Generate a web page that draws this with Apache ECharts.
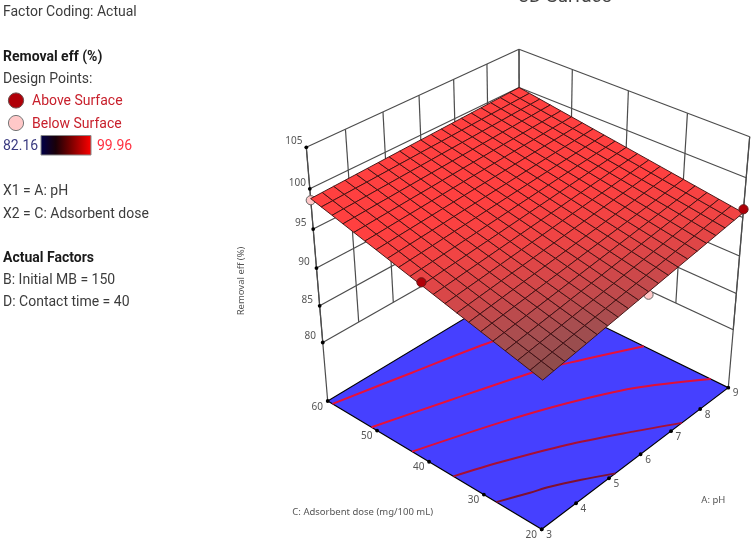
<!DOCTYPE html>
<html><head><meta charset="utf-8">
<style>html,body{margin:0;padding:0;background:#fff}#c{width:752px;height:541px}</style>
<script src="https://cdn.jsdelivr.net/npm/echarts@6/dist/echarts.min.js"></script>
</head><body><div id="c"></div>
<script>
const PH_TICKS=[3,4,5,6,7,8,9];
const DOSE_TICKS=[60,50,40,30,20];
const Z_TICKS=[80,85,90,95,100,105];
const Z_FLOOR=71.7;
// surface: rows run dose 60 -> 20 (steps of 2), columns run pH 3 -> 9 (steps of 0.3)
const PH_GRID=[3,3.3,3.6,3.9,4.2,4.5,4.8,5.1,5.4,5.7,6,6.3,6.6,6.9,7.2,7.5,7.8,8.1,8.4,8.7,9];
const DOSE_GRID=[60,58,56,54,52,50,48,46,44,42,40,38,36,34,32,30,28,26,24,22,20];
const SURFACE=[
[98.80,98.86,98.92,98.98,99.04,99.10,99.16,99.22,99.28,99.34,99.40,99.46,99.52,99.58,99.64,99.70,99.76,99.82,99.88,99.94,100.00],
[98.41,98.48,98.55,98.62,98.68,98.75,98.82,98.89,98.96,99.03,99.10,99.16,99.23,99.30,99.37,99.44,99.51,99.57,99.64,99.71,99.78],
[98.03,98.11,98.18,98.26,98.34,98.41,98.49,98.57,98.64,98.72,98.80,98.87,98.95,99.02,99.10,99.18,99.25,99.33,99.41,99.48,99.56],
[97.64,97.73,97.81,97.90,97.98,98.07,98.15,98.24,98.32,98.41,98.49,98.58,98.66,98.75,98.83,98.92,99.00,99.09,99.17,99.26,99.34],
[97.25,97.34,97.44,97.53,97.62,97.72,97.81,97.90,98.00,98.09,98.19,98.28,98.37,98.47,98.56,98.65,98.75,98.84,98.93,99.03,99.12],
[96.86,96.96,97.06,97.17,97.27,97.37,97.47,97.57,97.68,97.78,97.88,97.98,98.08,98.19,98.29,98.39,98.49,98.59,98.70,98.80,98.90],
[96.48,96.59,96.70,96.81,96.92,97.03,97.14,97.25,97.36,97.47,97.58,97.69,97.80,97.91,98.02,98.13,98.24,98.35,98.46,98.57,98.68],
[96.09,96.21,96.33,96.45,96.56,96.68,96.80,96.92,97.04,97.16,97.28,97.39,97.51,97.63,97.75,97.87,97.99,98.10,98.22,98.34,98.46],
[95.70,95.83,95.95,96.08,96.21,96.34,96.46,96.59,96.72,96.84,96.97,97.10,97.22,97.35,97.48,97.61,97.73,97.86,97.99,98.11,98.24],
[95.31,95.45,95.58,95.72,95.85,95.99,96.12,96.26,96.39,96.53,96.67,96.80,96.94,97.07,97.21,97.34,97.48,97.61,97.75,97.88,98.02],
[94.93,95.07,95.22,95.36,95.50,95.65,95.79,95.93,96.08,96.22,96.37,96.51,96.65,96.80,96.94,97.08,97.23,97.37,97.51,97.66,97.80],
[94.54,94.69,94.84,95.00,95.15,95.30,95.45,95.60,95.76,95.91,96.06,96.21,96.36,96.52,96.67,96.82,96.97,97.12,97.28,97.43,97.58],
[94.15,94.31,94.47,94.63,94.79,94.95,95.11,95.27,95.43,95.59,95.76,95.92,96.08,96.24,96.40,96.56,96.72,96.88,97.04,97.20,97.36],
[93.76,93.93,94.10,94.27,94.44,94.61,94.77,94.94,95.11,95.28,95.45,95.62,95.79,95.96,96.13,96.30,96.46,96.63,96.80,96.97,97.14],
[93.38,93.56,93.73,93.91,94.09,94.27,94.44,94.62,94.80,94.97,95.15,95.33,95.50,95.68,95.86,96.04,96.21,96.39,96.57,96.74,96.92],
[92.99,93.18,93.36,93.55,93.73,93.92,94.10,94.29,94.47,94.66,94.85,95.03,95.22,95.40,95.59,95.77,95.96,96.14,96.33,96.51,96.70],
[92.60,92.79,92.99,93.18,93.38,93.57,93.76,93.96,94.15,94.35,94.54,94.73,94.93,95.12,95.32,95.51,95.70,95.90,96.09,96.29,96.48],
[92.21,92.41,92.62,92.82,93.02,93.22,93.43,93.63,93.83,94.03,94.24,94.44,94.64,94.84,95.05,95.25,95.45,95.65,95.86,96.06,96.26],
[91.83,92.04,92.25,92.46,92.67,92.88,93.09,93.30,93.51,93.72,93.94,94.15,94.36,94.57,94.78,94.99,95.20,95.41,95.62,95.83,96.04],
[91.44,91.66,91.88,92.10,92.32,92.54,92.75,92.97,93.19,93.41,93.63,93.85,94.07,94.29,94.51,94.73,94.94,95.16,95.38,95.60,95.82],
[91.05,91.28,91.51,91.73,91.96,92.19,92.42,92.64,92.87,93.10,93.33,93.55,93.78,94.01,94.24,94.46,94.69,94.92,95.15,95.37,95.60]
];
// floor contours as [pH, dose]
const CONTOUR_1=[[3,59],[4.9,56],[6.88,52.8],[9,48]];
const CONTOUR_2=[[3,51.1],[4.73,47.4],[6.57,43.3],[7.3,41.2],[9,35.3]];
const CONTOUR_3=[[3,43.2],[4.87,38.7],[6.29,34.7],[7.63,30],[9,23.1]];
const CONTOUR_4=[[3,35.5],[3.93,32.9],[5.23,28.7],[6.47,23.8],[7.37,20]];
const CONTOUR_5=[[3,27.8],[3.64,25.8],[4.03,24.65],[4.6,22.5],[5.2,20]];
const CONTOURS=[CONTOUR_1,CONTOUR_2,CONTOUR_3,CONTOUR_4,CONTOUR_5];
const CONTOUR_COLORS=['#e8103a','#e8103a','#e00f38','#a80f35','#801030'];
// design points as [pH, dose, response]
const POINTS_ABOVE=[[3,40,95.3],[9,20,96.05]];
const POINTS_BELOW=[[3,60,98.6],[6,20,92.95]];

const COLOR_STOPS=[[91,[130,74,74]],[92.5,[165,78,80]],[94,[208,72,74]],[95.5,[240,68,68]],[97,[255,64,64]]];
function surfColor(z){
  if(z<=COLOR_STOPS[0][0])return 'rgb('+COLOR_STOPS[0][1]+')';
  for(let k=1;k<COLOR_STOPS.length;k++){
    if(z<=COLOR_STOPS[k][0]){
      const a=COLOR_STOPS[k-1],b=COLOR_STOPS[k],t=(z-a[0])/(b[0]-a[0]);
      return 'rgb('+a[1].map((c,n)=>Math.round(c+(b[1][n]-c)*t))+')';
    }
  }
  return 'rgb(255,64,64)';
}
// perspective camera mapping (pH, dose, response) onto the page plane
const CAM={ox:327.7,oy:401,ux:251.7,uy:-82.87,vx:159.83,vy:75.37,hx:-51.17,hy:-268.02,a:0.115,b:-0.10,c:-0.0972};
function proj(ph,dose,z){
  const u=(ph-3)/6,v=(60-dose)/40,h=(z-Z_FLOOR)/(105-Z_FLOOR);
  const d=1+CAM.a*u+CAM.b*v+CAM.c*h;
  return [(CAM.ox+CAM.ux*u+CAM.vx*v+CAM.hx*h)/d,(CAM.oy+CAM.uy*u+CAM.vy*v+CAM.hy*h)/d];
}
const pMin=PH_TICKS[0],pMax=PH_TICKS[PH_TICKS.length-1],dMax=DOSE_TICKS[0],dMin=DOSE_TICKS[DOSE_TICKS.length-1];
const zTop=Z_TICKS[Z_TICKS.length-1],zLow=Z_TICKS[0];
const wallLines=[];
Z_TICKS.forEach(z=>{wallLines.push([[pMin,dMax,z],[pMax,dMax,z]]);wallLines.push([[pMax,dMax,z],[pMax,dMin,z]]);});
PH_TICKS.forEach(p=>wallLines.push([[p,dMax,zLow],[p,dMax,zTop]]));
DOSE_TICKS.forEach(d=>wallLines.push([[pMax,d,zLow],[pMax,d,zTop]]));
wallLines.push([[pMin,dMax,Z_FLOOR],[pMin,dMax,zTop]]);
wallLines.push([[pMax,dMin,Z_FLOOR],[pMax,dMin,zTop]]);

const cells=[];
for(let j=0;j<DOSE_GRID.length-1;j++)for(let i=0;i<PH_GRID.length-1;i++)cells.push([i,j]);
const tickItems=[];
PH_TICKS.forEach(p=>tickItems.push({pos:[p,dMin,Z_FLOOR],label:String(p),dx:7.4,dy:5.8}));
DOSE_TICKS.forEach(d=>tickItems.push({pos:[pMin,d,Z_FLOOR],label:String(d),dx:-10.4,dy:5.8}));
Z_TICKS.forEach(z=>tickItems.push({pos:[pMin,dMax,z],label:String(z),dx:-12.5,dy:-6}));

function layer(data,renderItem,z){
  return {type:'custom',coordinateSystem:'cartesian2d',data:data.map((d,i)=>[i,i]),encode:{x:0,y:1},clip:false,silent:true,animation:false,z:z,renderItem:(params,api)=>renderItem(data[params.dataIndex],api)};
}
function pt(api,p){return api.coord(proj(p[0],p[1],p[2]));}
const TEXT='#3c3c3c',FONT='Roboto,sans-serif',TICKFONT='"Noto Sans",sans-serif';
function t(text,x,y,o){return Object.assign({type:'text',silent:true,style:Object.assign({text:text,x:x,y:y,fill:TEXT,font:'14px '+FONT,verticalAlign:'middle'},o||{})});}

const option={
  animation:false,
  backgroundColor:'#fff',
  grid:{left:0,right:0,top:0,bottom:0},
  xAxis:{type:'value',min:0,max:752,show:false},
  yAxis:{type:'value',min:0,max:541,inverse:true,show:false},
  series:[
    layer(wallLines,(l,api)=>{
      return {type:'polyline',shape:{points:[pt(api,l[0]),pt(api,l[1])]},style:{stroke:'#4c4c4c',lineWidth:1.2,fill:null}};
    },1),
    layer([0],(d,api)=>{
      return {type:'polygon',shape:{points:[[pMin,dMax],[pMin,dMin],[pMax,dMin],[pMax,dMax]].map(c=>pt(api,[c[0],c[1],Z_FLOOR]))},style:{fill:'#4640ff',stroke:'#000',lineWidth:1.1}};
    },2),
    layer(CONTOURS,(c,api)=>{
      return {type:'polyline',shape:{smooth:0.3,points:c.map(q=>pt(api,[q[0],q[1],Z_FLOOR]))},style:{stroke:CONTOUR_COLORS[CONTOURS.indexOf(c)],lineWidth:2,fill:null}};
    },3),
    layer(POINTS_BELOW,(p,api)=>{
      const c=pt(api,p);
      return {type:'circle',shape:{cx:c[0],cy:c[1],r:4.6},style:{fill:'#ffc8c8',stroke:'#666',lineWidth:1}};
    },4),
    layer(cells,(c,api)=>{
      const i=c[0],j=c[1];
      const corners=[[i,j],[i+1,j],[i+1,j+1],[i,j+1]];
      const avg=corners.reduce((s,k)=>s+SURFACE[k[1]][k[0]],0)/4;
      return {type:'polygon',shape:{points:corners.map(k=>pt(api,[PH_GRID[k[0]],DOSE_GRID[k[1]],SURFACE[k[1]][k[0]]]))},style:{fill:surfColor(avg),stroke:'rgba(62,16,16,0.92)',lineWidth:1}};
    },5),
    layer(POINTS_ABOVE,(p,api)=>{
      const c=pt(api,p);
      return {type:'circle',shape:{cx:c[0],cy:c[1],r:4.6},style:{fill:'#b00008',stroke:'#6a1a1a',lineWidth:1}};
    },6),
    layer(tickItems,(k,api)=>{
      const c=pt(api,k.pos);
      return {type:'group',children:[
        {type:'circle',shape:{cx:c[0],cy:c[1],r:1.9},style:{fill:'#000'}},
        {type:'text',style:{text:k.label,x:c[0]+k.dx,y:c[1]+k.dy,fill:'#555',font:'10px '+TICKFONT,align:'center',verticalAlign:'middle'}}
      ]};
    },7)
  ],
  graphic:{elements:[
    t('Factor Coding: Actual',3,12),
    t('Removal eff (%)',3,57,{font:'bold 14px '+FONT,fill:'#1a1a1a'}),
    t('Design Points:',3,79),
    {type:'circle',silent:true,shape:{cx:16,cy:100.5,r:7.6},style:{fill:'#b00008',stroke:'#6a4a4a',lineWidth:1}},
    t('Above Surface',32,101.5,{fill:'#c8202c'}),
    {type:'circle',silent:true,shape:{cx:16,cy:123,r:7.6},style:{fill:'#ffc8c8',stroke:'#777',lineWidth:1}},
    t('Below Surface',32,124,{fill:'#c8202c'}),
    t('82.16',3,146,{fill:'#3a3a80'}),
    {type:'rect',silent:true,shape:{x:41,y:135.5,width:50,height:19.5},style:{stroke:'#888',lineWidth:1,fill:new echarts.graphic.LinearGradient(0,0,1,0,[{offset:0,color:'#00004a'},{offset:0.3,color:'#1a0008'},{offset:0.55,color:'#6a0000'},{offset:1,color:'#ff0000'}])}},
    t('99.96',97,146,{fill:'#ff3040'}),
    t('X1 = A: pH',3,191),
    t('X2 = C: Adsorbent dose',3,214),
    t('Actual Factors',3,258,{font:'bold 14px '+FONT,fill:'#1a1a1a'}),
    t('B: Initial MB = 150',3,280),
    t('D: Contact time = 40',3,302),
    t('3D Surface',565,-3,{font:'19px '+FONT,align:'center',fill:'#444'}),
    t('C: Adsorbent dose (mg/100 mL)',362.7,512.3,{font:'9.5px '+TICKFONT,align:'center',fill:'#555'}),
    t('A: pH',713.3,500,{font:'9.5px '+TICKFONT,align:'center',fill:'#555'}),
    {type:'text',silent:true,x:241,y:281,rotation:Math.PI/2,style:{text:'Removal eff (%)',font:'9.5px '+TICKFONT,align:'center',verticalAlign:'middle',fill:'#555'}}
  ]}
};
const chart=echarts.init(document.getElementById('c'),null,{renderer:'canvas',width:752,height:541});
chart.setOption(option);
</script></body></html>
